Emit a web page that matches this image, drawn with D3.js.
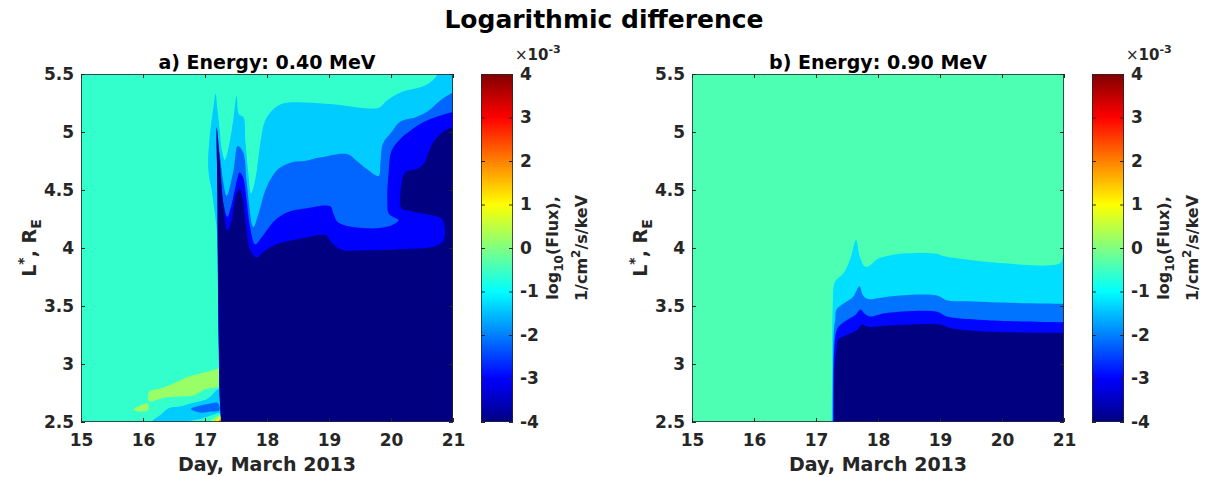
<!DOCTYPE html>
<html><head><meta charset="utf-8">
<script src="https://cdn.jsdelivr.net/npm/d3@7"></script>
<style>
body{margin:0;background:#fff}
text{font-family:"DejaVu Sans",sans-serif;font-weight:bold}
</style>
</head><body>
<svg id="chart" width="1206" height="477"></svg>
<script>
// ---------- tick labels / categories ----------
const dayTicks = [15, 16, 17, 18, 19, 20, 21];
const lTicks = [2.5, 3, 3.5, 4, 4.5, 5, 5.5];
const cbTicks = [-4, -3, -2, -1, 0, 1, 2, 3, 4];
const panelTitles = ["a) Energy: 0.40 MeV", "b) Energy: 0.90 MeV"];

// ---------- contour level values (x1e-3) used for each filled region ----------
const levelsA = { min: -4, blue: -3.0, med: -2.2, light: -1.4, base: -0.6, green: 0.2, yellow: 1.0, orange: 1.8, red: 2.6 };
const levelsB = { min: -4, blue: -2.95, med: -2.1, light: -1.25, base: -0.4 };

// ---------- panel a) contour boundaries [day, L*] ----------
const aLight = [[17.26,2.5],[17.235,2.7],[17.225,3.0],[17.205,3.8],[17.2,4.1],[17.16,4.29],[17.11,4.49],[17.06,4.64],[17.05,4.75],[17.08,4.98],[17.135,5.21],[17.17,5.33],[17.2,5.2],[17.24,5.0],[17.27,4.85],[17.32,4.76],[17.4,4.92],[17.46,5.12],[17.51,5.31],[17.55,5.15],[17.62,5.13],[17.65,4.93],[17.7,4.64],[17.74,4.47],[17.78,4.52],[17.83,4.65],[17.9,4.93],[17.97,5.1],[18.13,5.21],[18.29,5.25],[18.61,5.255],[19.07,5.24],[19.8,5.21],[19.93,5.27],[20.15,5.34],[20.36,5.37],[20.58,5.41],[20.74,5.49],[20.78,5.6]];
const aMed = [[17.262,2.5],[17.237,2.7],[17.227,3.0],[17.207,3.8],[17.2,4.5],[17.19,5.03],[17.24,4.81],[17.3,4.55],[17.35,4.45],[17.46,4.67],[17.53,4.88],[17.62,4.82],[17.67,4.58],[17.78,4.18],[17.86,4.29],[17.99,4.52],[18.18,4.68],[18.4,4.74],[18.61,4.75],[18.85,4.78],[19.29,4.81],[19.45,4.75],[19.61,4.68],[19.8,4.62],[19.83,4.74],[19.87,4.9],[20.01,5.0],[20.15,5.09],[20.41,5.13],[20.6,5.18],[20.79,5.27],[21.0,5.34],[21.2,5.37]];
const aBlue = [[17.264,2.5],[17.239,2.7],[17.229,3.0],[17.209,3.8],[17.2,4.5],[17.195,4.92],[17.25,4.6],[17.3,4.38],[17.36,4.27],[17.43,4.38],[17.5,4.55],[17.56,4.65],[17.62,4.6],[17.67,4.42],[17.72,4.2],[17.81,4.03],[17.91,4.09],[18.13,4.24],[18.34,4.31],[18.61,4.34],[19.02,4.36],[19.07,4.3],[19.15,4.22],[19.61,4.17],[19.98,4.19],[20.12,4.24],[19.97,4.29],[19.94,4.41],[19.96,4.64],[20.01,4.84],[20.15,4.94],[20.31,5.01],[20.47,5.07],[20.68,5.12],[20.9,5.16],[21.0,5.17],[21.2,5.18]];
const aNavy = [[17.266,2.5],[17.241,2.7],[17.231,3.0],[17.211,3.8],[17.202,4.5],[17.19,5.04],[17.23,4.81],[17.3,4.35],[17.36,4.15],[17.42,4.22],[17.5,4.45],[17.555,4.51],[17.6,4.45],[17.66,4.2],[17.73,3.98],[17.83,3.92],[17.95,3.97],[18.2,4.04],[18.53,4.08],[18.96,4.11],[19.02,4.06],[19.18,3.99],[19.61,3.98],[20.14,3.99],[20.68,4.01],[20.84,4.06],[20.87,4.15],[20.82,4.25],[20.58,4.29],[20.31,4.32],[20.17,4.34],[20.17,4.55],[20.23,4.65],[20.41,4.68],[20.52,4.72],[20.68,4.91],[20.84,5.0],[21.0,5.04],[21.2,5.05]];
// lower-left features of panel a)
const aLowLight = [[16.15,2.5],[16.3,2.57],[16.42,2.62],[16.61,2.635],[16.77,2.66],[17.04,2.7],[17.2,2.78],[17.25,2.785],[17.27,2.6],[17.27,2.5]];
const aLowBase = [[16.7,2.5],[16.95,2.53],[17.12,2.56],[17.24,2.575],[17.27,2.5]];
const aEllipse = [[16.77,2.612],[16.85,2.632],[16.94,2.645],[17.1,2.66],[17.2,2.665],[17.235,2.63],[17.23,2.6],[17.1,2.59],[16.94,2.58],[16.83,2.595]];
const aGreenBand = [[16.1,2.68],[16.1,2.76],[16.29,2.79],[16.56,2.85],[16.72,2.89],[16.94,2.92],[17.2,2.96],[17.24,2.97],[17.24,2.8],[17.2,2.8],[16.99,2.78],[16.83,2.73],[16.61,2.72],[16.34,2.71]];
const aGreenBlob = [[15.85,2.61],[15.9,2.63],[15.96,2.645],[16.08,2.66],[16.08,2.6],[15.96,2.59],[15.88,2.595]];
const aCornerGreen = [[17.08,2.5],[17.2,2.55],[17.26,2.56],[17.27,2.5]];
const aCornerYellow = [[17.17,2.5],[17.23,2.535],[17.265,2.545],[17.27,2.5]];
const aCornerOrange = [[17.21,2.5],[17.245,2.525],[17.268,2.53],[17.27,2.5]];
const aCornerRed = [[17.235,2.5],[17.258,2.515],[17.27,2.52],[17.27,2.5]];

// ---------- panel b) contour boundaries [day, L*] ----------
const bLight = [[17.255,2.5],[17.26,3.0],[17.27,3.5],[17.29,3.68],[17.32,3.72],[17.44,3.78],[17.55,3.9],[17.645,4.07],[17.71,3.92],[17.79,3.84],[17.87,3.85],[17.98,3.9],[18.14,3.93],[18.36,3.95],[18.95,3.95],[19.05,3.93],[19.43,3.9],[19.97,3.87],[20.94,3.87],[20.99,3.95],[21.05,4.02]];
const bMed = [[17.27,2.5],[17.275,3.0],[17.29,3.3],[17.31,3.38],[17.33,3.47],[17.44,3.52],[17.6,3.58],[17.7,3.67],[17.76,3.59],[17.84,3.56],[18.03,3.57],[18.36,3.59],[18.95,3.59],[19.11,3.55],[19.43,3.54],[19.97,3.53],[21.0,3.52],[21.2,3.52]];
const bBlue = [[17.28,2.5],[17.285,3.0],[17.3,3.18],[17.32,3.26],[17.36,3.32],[17.5,3.38],[17.63,3.42],[17.72,3.47],[17.79,3.43],[17.87,3.41],[18.14,3.44],[18.95,3.45],[19.11,3.41],[19.7,3.38],[21.0,3.36],[21.2,3.36]];
const bNavy = [[17.29,2.5],[17.295,2.9],[17.31,3.05],[17.33,3.12],[17.36,3.21],[17.5,3.25],[17.66,3.29],[17.74,3.34],[17.79,3.33],[17.87,3.32],[18.14,3.33],[19.0,3.34],[19.16,3.31],[19.7,3.28],[21.0,3.27],[21.2,3.27]];

// ---------- jet colour map (style) ----------
const jet = d3.scaleLinear().domain([-4, -3, -1, 1, 3, 4])
  .range(["#000080", "#0000ff", "#00ffff", "#ffff00", "#ff0000", "#800000"]).clamp(true);

const svg = d3.select("#chart");
svg.append("rect").attr("width", 1206).attr("height", 477).attr("fill", "#fff");
const defs = svg.append("defs");
const grad = defs.append("linearGradient").attr("id", "jetgrad").attr("x1", 0).attr("y1", 1).attr("x2", 0).attr("y2", 0);
d3.range(0, 1.0001, 0.0625).forEach(t => {
  grad.append("stop").attr("offset", t).attr("stop-color", jet(-4 + 8 * t));
});

const ink = "#262626";
const W = 372, H = 348, TOP = 74;
const panels = [
  { left: 81, title: panelTitles[0], levels: levelsA,
    open: [[aLight, "light"], [aMed, "med"], [aBlue, "blue"], [aNavy, "min"]],
    closed: [[aLowLight, "light"], [aLowBase, "base"], [aEllipse, "med"], [aGreenBand, "green"], [aGreenBlob, "green"],
             [aCornerGreen, "green"], [aCornerYellow, "yellow"], [aCornerOrange, "orange"], [aCornerRed, "red"]] },
  { left: 692, title: panelTitles[1], levels: levelsB,
    open: [[bLight, "light"], [bMed, "med"], [bBlue, "blue"], [bNavy, "min"]],
    closed: [] }
];

function styleAxis(a, size) {
  a.select(".domain").remove();
  a.selectAll("line").attr("stroke", ink);
  a.selectAll("text").attr("fill", ink).style("font-size", size + "px")
    .style("font-family", "'DejaVu Sans',sans-serif").style("font-weight", "bold");
}

panels.forEach((p, i) => {
  const x = d3.scaleLinear().domain([15, 21]).range([p.left, p.left + W]);
  const y = d3.scaleLinear().domain([2.5, 5.5]).range([TOP + H, TOP]);
  const g = svg.append("g");
  const clipId = "clip" + i;
  defs.append("clipPath").attr("id", clipId).append("rect")
    .attr("x", p.left).attr("y", TOP).attr("width", W).attr("height", H);
  const area = g.append("g").attr("clip-path", `url(#${clipId})`);
  area.append("rect").attr("x", p.left).attr("y", TOP).attr("width", W).attr("height", H)
    .attr("fill", jet(p.levels.base));

  const closedLine = d3.line().x(d => x(d[0])).y(d => y(d[1])).curve(d3.curveCatmullRomClosed.alpha(0.5));
  p.closed.forEach(([pts, lev]) => {
    area.append("path").attr("d", closedLine(pts)).attr("fill", jet(p.levels[lev]));
  });
  const openLine = d3.line().x(d => x(d[0])).y(d => y(d[1])).curve(d3.curveCatmullRom.alpha(0.5));
  p.open.forEach(([pts, lev]) => {
    const last = pts[pts.length - 1];
    let d = openLine(pts);
    d += `L${x(21.3)},${y(last[1])}L${x(21.3)},${y(2.3)}L${x(pts[0][0])},${y(2.3)}Z`;
    area.append("path").attr("d", d).attr("fill", jet(p.levels[lev]));
  });

  // box
  g.append("rect").attr("x", p.left + 0.5).attr("y", TOP + 0.5).attr("width", W - 1).attr("height", H - 1)
    .attr("fill", "none").attr("stroke", ink).attr("stroke-width", 1).attr("stroke-opacity", 0.8);

  // axes with inward ticks
  const axB = g.append("g").attr("transform", `translate(0,${TOP + H})`)
    .call(d3.axisBottom(x).tickValues(dayTicks).tickSize(-4).tickPadding(12).tickFormat(d => String(d)));
  const axT = g.append("g").attr("transform", `translate(0,${TOP})`)
    .call(d3.axisTop(x).tickValues(dayTicks).tickSize(-4).tickFormat(""));
  const axL = g.append("g").attr("transform", `translate(${p.left},0)`)
    .call(d3.axisLeft(y).tickValues(lTicks).tickSize(-4).tickPadding(7).tickFormat(d => String(d)));
  const axR = g.append("g").attr("transform", `translate(${p.left + W},0)`)
    .call(d3.axisRight(y).tickValues(lTicks).tickSize(-4).tickFormat(""));
  [axB, axT, axL, axR].forEach(a => styleAxis(a, 17));

  // titles and labels
  g.append("text").attr("x", p.left + W / 2).attr("y", 69).attr("text-anchor", "middle")
    .style("font-size", "19px").attr("fill", "#000").text(p.title);
  g.append("text").attr("x", p.left + W / 2).attr("y", 471).attr("text-anchor", "middle")
    .style("font-size", "19px").attr("fill", ink).text("Day, March 2013");
  const yl = g.append("text").attr("transform", `translate(${p.left - 45},${TOP + H / 2}) rotate(-90)`)
    .attr("text-anchor", "middle").style("font-size", "19px").attr("fill", ink);
  yl.append("tspan").text("L");
  yl.append("tspan").attr("dy", -8).style("font-size", "14px").text("*");
  yl.append("tspan").attr("dy", 8).text(", R");
  yl.append("tspan").attr("dy", 5).style("font-size", "14px").text("E");

  // colorbar
  const cbx = p.left + 400, cbw = 32;
  const cy = d3.scaleLinear().domain([-4, 4]).range([TOP + H, TOP]);
  g.append("rect").attr("x", cbx).attr("y", TOP).attr("width", cbw).attr("height", H).attr("fill", "url(#jetgrad)");
  g.append("rect").attr("x", cbx + 0.5).attr("y", TOP + 0.5).attr("width", cbw - 1).attr("height", H - 1)
    .attr("fill", "none").attr("stroke", ink).attr("stroke-opacity", 0.8);
  const cbR = g.append("g").attr("transform", `translate(${cbx + cbw},0)`)
    .call(d3.axisRight(cy).tickValues(cbTicks).tickSize(-4).tickPadding(7).tickFormat(d => String(d)));
  const cbL = g.append("g").attr("transform", `translate(${cbx},0)`)
    .call(d3.axisLeft(cy).tickValues(cbTicks).tickSize(-4).tickFormat(""));
  styleAxis(cbR, 17); styleAxis(cbL, 17);
  const ex = g.append("text").attr("x", cbx + 34).attr("y", 60).style("font-size", "15px").attr("fill", ink);
  ex.append("tspan").style("font-weight", "normal").text("\u00d7");
  ex.append("tspan").text("10");
  ex.append("tspan").attr("dy", -7).style("font-size", "11px").text("-3");

  const l1 = g.append("text").attr("transform", `translate(${cbx + 77},${TOP + H / 2}) rotate(-90)`)
    .attr("text-anchor", "middle").style("font-size", "16px").attr("fill", ink);
  l1.append("tspan").text("log");
  l1.append("tspan").attr("dy", 5).style("font-size", "12px").text("10");
  l1.append("tspan").attr("dy", -5).text("(Flux),");
  const l2 = g.append("text").attr("transform", `translate(${cbx + 106},${TOP + H / 2}) rotate(-90)`)
    .attr("text-anchor", "middle").style("font-size", "16px").attr("fill", ink);
  l2.append("tspan").text("1/cm");
  l2.append("tspan").attr("dy", -7).style("font-size", "12px").text("2");
  l2.append("tspan").attr("dy", 7).text("/s/keV");
});

svg.append("text").attr("x", 604).attr("y", 28).attr("text-anchor", "middle")
  .style("font-size", "25px").attr("fill", "#000").text("Logarithmic difference");
</script>
</body></html>
